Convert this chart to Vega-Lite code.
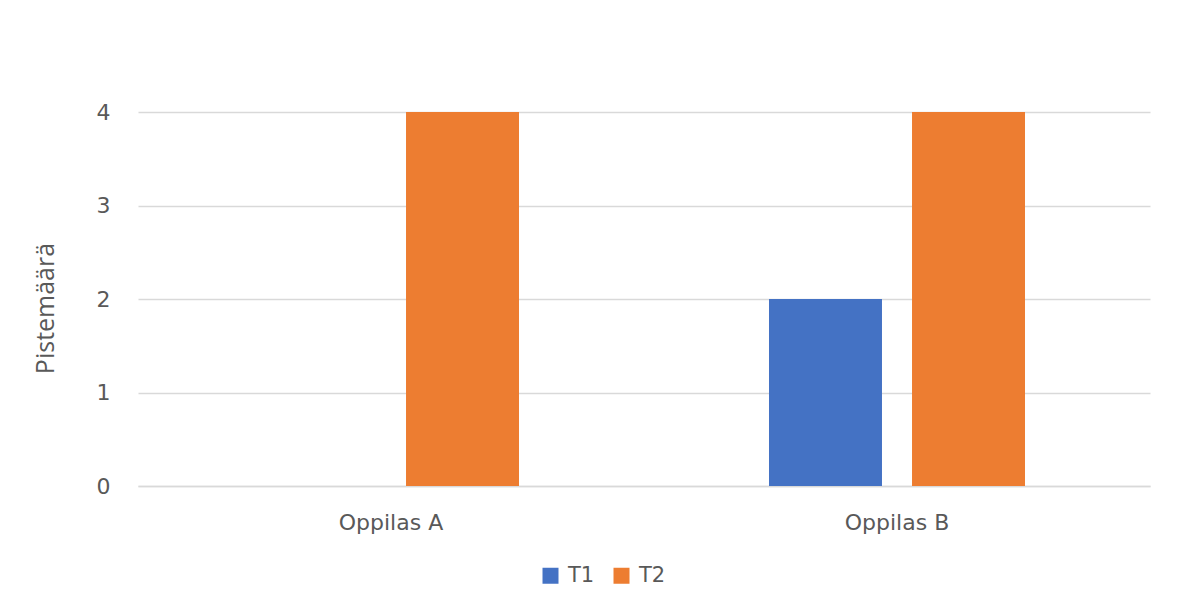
{
  "$schema": "https://vega.github.io/schema/vega-lite/v6.json",
  "width": 1012,
  "height": 374,
  "autosize": {"type": "none"},
  "padding": {"left": 138, "top": 112, "right": 34, "bottom": 126},
  "background": "#ffffff",
  "data": {
    "values": [
      {"oppilas": "Oppilas A", "testi": "T1", "pisteet": 0},
      {"oppilas": "Oppilas A", "testi": "T2", "pisteet": 4},
      {"oppilas": "Oppilas B", "testi": "T1", "pisteet": 2},
      {"oppilas": "Oppilas B", "testi": "T2", "pisteet": 4}
    ]
  },
  "mark": {"type": "bar"},
  "encoding": {
    "x": {
      "field": "oppilas",
      "type": "nominal",
      "scale": {"paddingInner": 0, "paddingOuter": 0},
      "axis": {
        "title": null,
        "labelAngle": 0,
        "labelFont": "DejaVu Sans",
        "labelFontSize": 22,
        "labelColor": "#595959",
        "labelPadding": 36,
        "labelBaseline": "middle",
        "ticks": false,
        "domain": true,
        "domainColor": "#d9d9d9",
        "domainWidth": 1.5
      }
    },
    "xOffset": {
      "field": "testi",
      "type": "nominal",
      "scale": {"paddingInner": 0.21, "paddingOuter": 0.874}
    },
    "y": {
      "field": "pisteet",
      "type": "quantitative",
      "scale": {"domain": [0, 4], "nice": false, "zero": true},
      "axis": {
        "values": [0, 1, 2, 3, 4],
        "title": "Pistemäärä",
        "titleFont": "Open Sans",
        "titleFontSize": 25,
        "titleFontWeight": "normal",
        "titleColor": "#595959",
        "titleAngle": -90,
        "titleAlign": "center",
        "titleBaseline": "middle",
        "titleX": -93,
        "titleY": 196,
        "labelFont": "DejaVu Sans",
        "labelFontSize": 22,
        "labelColor": "#595959",
        "labelPadding": 28,
        "ticks": false,
        "domain": false,
        "grid": true,
        "gridColor": "#d9d9d9",
        "gridWidth": 1.5
      }
    },
    "color": {
      "field": "testi",
      "type": "nominal",
      "scale": {"domain": ["T1", "T2"], "range": ["#4472C4", "#ED7D31"]},
      "legend": {
        "title": null,
        "orient": "none",
        "direction": "horizontal",
        "legendX": 402,
        "legendY": 453,
        "symbolType": "square",
        "symbolSize": 256,
        "symbolStrokeWidth": 0,
        "labelFont": "DejaVu Sans",
        "labelFontSize": 21,
        "labelColor": "#595959",
        "labelOffset": 7,
        "columnPadding": 16
      }
    }
  },
  "config": {
    "view": {"stroke": null}
  }
}
